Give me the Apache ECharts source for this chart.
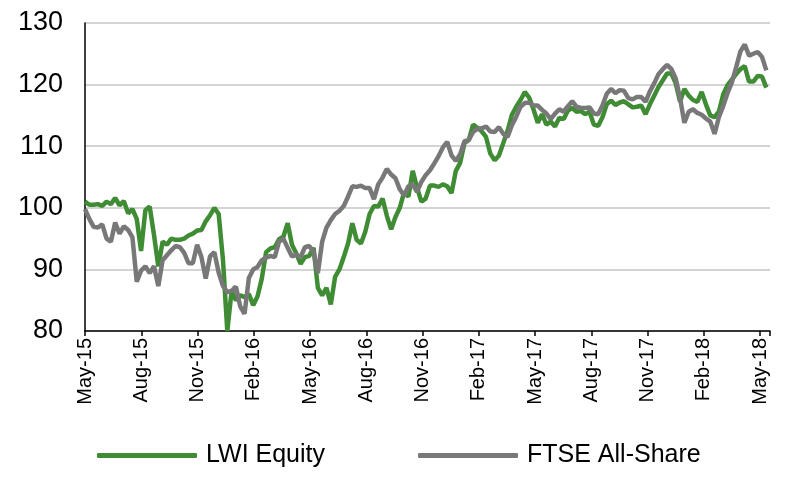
<!DOCTYPE html>
<html>
<head>
<meta charset="utf-8">
<script src="https://cdn.jsdelivr.net/npm/echarts@6/dist/echarts.min.js"></script>
<style>html,body{margin:0;padding:0;background:#fff}#c{width:800px;height:495px}</style>
</head>
<body>
<div id="c"></div>
<script>
// Weekly observations starting 2015-05-01 (x values are days since start)
const startDate = '2015-05-01';
const stepDays = 7;
const tickLabels = ['May-15','Aug-15','Nov-15','Feb-16','May-16','Aug-16','Nov-16','Feb-17','May-17','Aug-17','Nov-17','Feb-18','May-18'];
const seriesNames = ['LWI Equity', 'FTSE All-Share'];

const lwi = [
101.0,100.5,100.5,100.6,100.3,101.0,100.6,101.6,100.4,101.1,
99.1,99.8,98.2,93.0,99.6,100.2,95.6,90.5,94.5,94.0,
95.0,94.8,94.8,95.0,95.5,95.8,96.3,96.4,97.8,98.8,
100.0,99.0,91.5,80.0,86.5,85.0,85.8,85.5,86.0,84.2,
85.6,88.5,92.8,93.4,93.6,94.9,95.3,97.5,94.0,92.6,
90.9,92.0,92.2,93.5,87.0,85.8,87.0,84.3,88.8,90.0,
92.0,94.2,97.5,94.8,94.2,96.1,99.0,100.3,100.2,101.5,
98.7,96.5,98.5,100.0,102.5,101.8,106.0,103.3,101.0,101.5,
103.6,103.6,103.4,103.8,103.5,102.4,106.0,107.3,110.5,111.0,
113.5,113.0,112.4,111.5,108.8,107.7,108.5,110.5,112.5,115.1,
116.4,117.5,118.8,117.9,116.0,113.8,115.2,113.5,114.0,113.2,
114.6,114.4,115.8,116.2,115.6,115.7,115.2,115.6,113.5,113.3,
114.7,116.8,117.4,116.7,117.1,117.3,116.8,116.3,116.4,116.6,
115.2,116.8,118.2,119.6,120.7,121.8,121.8,120.2,117.2,119.3,
118.2,117.5,117.2,118.8,116.8,115.0,114.7,115.6,118.4,119.9,
120.8,121.7,122.5,123.0,120.5,120.5,121.4,121.3,119.5
];
const ftse = [
99.8,98.2,96.9,96.8,97.3,95.0,94.5,97.6,95.8,97.0,
96.4,95.2,88.0,89.8,90.5,89.4,90.5,87.3,91.5,92.3,
93.1,93.8,93.6,92.7,91.0,91.0,94.0,92.0,88.5,92.1,
92.8,89.5,87.3,86.3,86.5,87.2,84.0,82.8,88.6,90.0,
90.4,91.5,91.9,92.2,92.0,94.5,95.0,93.5,92.1,92.4,
92.0,93.6,93.8,92.8,89.4,94.5,96.8,98.0,99.0,99.5,
100.3,101.8,103.5,103.4,103.6,103.2,103.2,101.4,103.8,104.9,
106.3,105.4,104.8,103.0,102.0,103.5,103.8,102.6,104.2,105.3,
106.1,107.2,108.4,109.8,110.7,108.5,107.6,108.7,110.8,111.0,
112.3,112.8,112.9,113.2,112.4,112.3,113.1,112.0,111.5,113.4,
114.8,116.4,117.0,117.1,116.6,116.6,115.9,115.3,114.4,115.3,
116.0,115.6,116.5,117.3,116.4,116.2,116.2,116.3,115.3,115.2,
116.6,118.5,119.3,118.6,119.1,119.0,117.8,117.6,118.0,118.0,
117.2,118.9,120.2,121.7,122.5,123.2,122.5,121.0,117.8,113.8,
115.6,116.0,115.4,115.1,114.5,114.0,112.0,114.7,116.5,118.6,
120.3,122.8,125.4,126.5,124.7,125.0,125.3,124.5,122.3
];

const FONT = "'Liberation Sans Narrow','Arial Narrow','Liberation Sans',Arial,sans-serif";
const tickStep = 1096 / 12; // one quarter in days (May-15 .. May-18)
const pairs = vals => vals.map((v, i) => [i * stepDays, v]);

const chart = echarts.init(document.getElementById('c'), null, {renderer: 'canvas'});
chart.setOption({
  animation: false,
  backgroundColor: '#ffffff',
  grid: {left: 85, right: 30, top: 23, bottom: 164, containLabel: false},
  xAxis: {
    type: 'value', min: 0, max: 1112, interval: tickStep,
    axisLine: {show: true, lineStyle: {color: '#000', width: 1.5}},
    axisTick: {show: true, length: 5, lineStyle: {color: '#000', width: 1.5}},
    splitLine: {show: false},
    axisLabel: {
      rotate: 90, margin: 7, color: '#000', fontFamily: FONT, fontSize: 20,
      formatter: v => {
        const i = Math.round(v / tickStep);
        return Math.abs(v - i * tickStep) < 1 && tickLabels[i] ? tickLabels[i] : '';
      }
    }
  },
  yAxis: {
    type: 'value', min: 80, max: 130, interval: 10,
    axisLine: {show: true, lineStyle: {color: '#000', width: 1.5}},
    axisTick: {show: false},
    splitLine: {show: true, lineStyle: {color: '#c6c6c6', width: 1.5}},
    axisLabel: {color: '#000', fontFamily: FONT, fontSize: 27, margin: 22}
  },
  legend: {
    left: 97, top: 443, padding: 0, itemWidth: 100, itemHeight: 5, itemGap: 93, icon: 'roundRect',
    textStyle: {color: '#000', fontFamily: FONT, fontSize: 25, padding: [0, 0, 0, 4]},
    data: seriesNames
  },
  series: [
    {name: seriesNames[0], type: 'line', data: pairs(lwi), showSymbol: false,
     lineStyle: {color: '#3f8c35', width: 4.5}, itemStyle: {color: '#3f8c35'}},
    {name: seriesNames[1], type: 'line', data: pairs(ftse), showSymbol: false,
     lineStyle: {color: '#787878', width: 4.5}, itemStyle: {color: '#787878'}}
  ]
});
</script>
</body>
</html>
